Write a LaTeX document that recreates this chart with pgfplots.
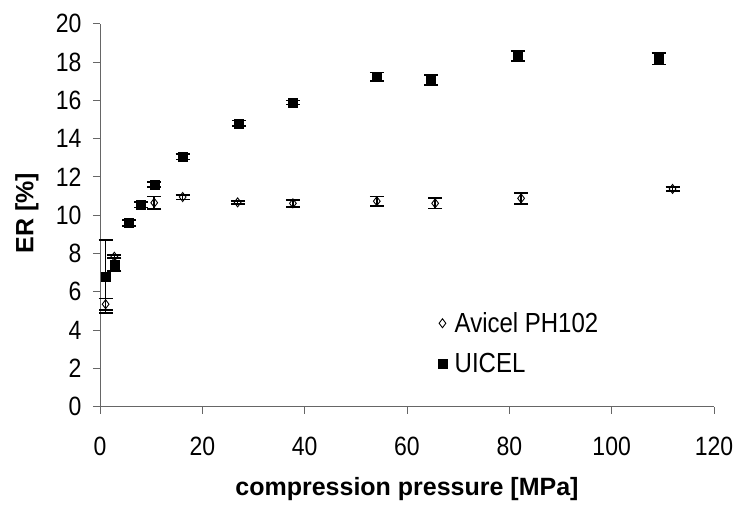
\documentclass[border=0pt]{standalone}
\usepackage{pgfplots}
\pgfplotsset{compat=1.18}
\usepackage{fontspec}
\setmainfont{Liberation Sans}
\begin{document}
\begin{tikzpicture}
\begin{axis}[
  scale only axis, width=614pt, height=383pt,
  xmin=0, xmax=120, ymin=0, ymax=20,
  xtick={0,20,...,120}, ytick={0,2,...,20},
  axis lines*=left, axis line style={-, line width=0.9pt, black!60},
  tick align=outside, major tick length=7pt,
  tick style={line width=0.9pt, black!60},
  xticklabel={\scalebox{1}[1.15]{\pgfmathprintnumber[assume math mode=true]{\tick}}},
  yticklabel={\scalebox{1}[1.15]{\pgfmathprintnumber[assume math mode=true]{\tick}}},
  ticklabel style={font=\fontsize{23}{26}\selectfont, black},
  xticklabel style={yshift=-20pt},
  yticklabel style={xshift=-8pt},
  xlabel={\textbf{compression pressure [MPa]}},
  ylabel={\textbf{ER [\%]}},
  label style={font=\fontsize{25}{28}\selectfont},
  xlabel style={at={(axis description cs:0.5,-0.232)}, anchor=base},
  ylabel style={at={(axis description cs:-0.1086,0.505)}, anchor=base},
  legend style={draw=none, fill=none, at={(0.549,0.166)}, anchor=west,
    font=\fontsize{24}{27}\selectfont, row sep=17pt, inner sep=0pt,
    nodes={inner sep=1pt}},
  legend image code/.code={\draw[#1] plot coordinates {(0pt,0pt)}; \path (-5pt,0pt) (11pt,0pt);},
  legend cell align=left,
  clip=false,
]
\addplot[only marks, mark=diamond, mark size=4.5pt, mark options={fill=white, draw=black, line width=0.9pt},
  error bars/.cd, y dir=both, y explicit, error bar style={line width=1.6pt, black},
  error mark options={rotate=90, mark size=7pt, line width=1.6pt}]
  table[x=x, y=y, y error=e] {
x y e
1.1 5.35 0.3
2.8 7.83 0.09
10.6 10.65 0.33
16.15 10.95 0.12
26.9 10.67 0.08
37.7 10.62 0.18
54.1 10.73 0.25
65.5 10.62 0.28
82.3 10.88 0.28
111.9 11.37 0.1
};
\addlegendentry{\scalebox{1}[1.15]{Avicel PH102}}
\addplot[only marks, mark=square*, mark size=4.5pt, mark options={fill=black, draw=black},
  error bars/.cd, y dir=both, y explicit, error bar style={line width=1.6pt, black},
  error mark options={rotate=90, mark size=7pt, line width=1.6pt}]
  table[x=x, y=y, y error=e] {
x y e
1.1 6.8 1.9
2.8 7.42 0.33
5.7 9.6 0.15
8.0 10.55 0.15
10.6 11.6 0.13
16.15 13.05 0.15
27.2 14.8 0.15
37.7 15.88 0.1
54.1 17.23 0.22
64.7 17.06 0.25
81.6 18.31 0.27
109.2 18.16 0.3
};
\addlegendentry{\scalebox{1}[1.15]{UICEL}}
\path (rel axis cs:0,0) ++(-100pt,-92.3pt) (rel axis cs:1,1) ++(25pt,23.7pt);
\end{axis}
\end{tikzpicture}
\end{document}
